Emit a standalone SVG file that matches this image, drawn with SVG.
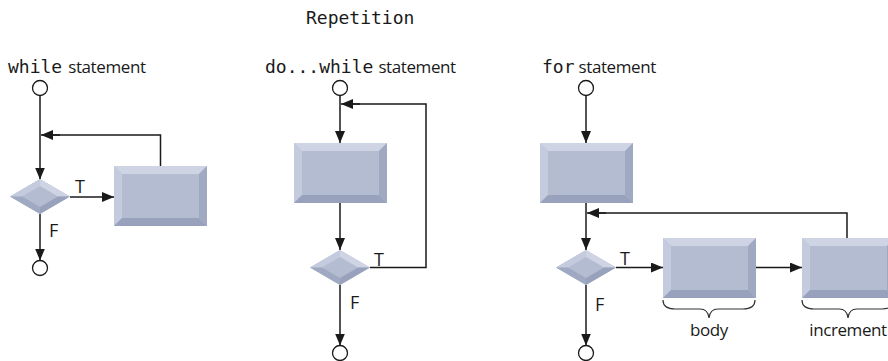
<svg xmlns="http://www.w3.org/2000/svg" width="888" height="361" viewBox="0 0 888 361">
<defs>
<style>
.mono{font-family:"DejaVu Sans Mono","Liberation Mono",monospace;font-size:18px;fill:#1a1a1a}
.sans{font-family:"Open Sans","Noto Sans",sans-serif;font-size:17px;letter-spacing:-0.4px;fill:#1a1a1a}
.lbl{font-family:"Open Sans","Noto Sans",sans-serif;font-size:18px;fill:#1a1a1a}
.ln{stroke:#1a1a1a;stroke-width:1.5;fill:none}
.arr{stroke:#1a1a1a;stroke-width:1.5;fill:none;marker-end:url(#ah)}
.brace{stroke:#333;stroke-width:1.2;fill:none}
.term{fill:#fff;stroke:#1a1a1a;stroke-width:1.3}
.c{fill:#b4bcd1}
.t{fill:#ced4e3}
.l{fill:#c5cbde}
.r{fill:#9fa9c2}
.b{fill:#98a2bc}
</style>
<marker id="ah" markerUnits="userSpaceOnUse" markerWidth="12" markerHeight="10" refX="12" refY="5" orient="auto">
<path d="M0,0 L12,5 L0,10 z" fill="#1a1a1a"/>
</marker>
<g id="rect">
<rect x="0" y="0" width="93" height="60" class="c"/>
<polygon points="0,0 93,0 85,8 8,8" class="t"/>
<polygon points="0,0 8,8 8,52 0,60" class="l"/>
<polygon points="93,0 93,60 85,52 85,8" class="r"/>
<polygon points="0,60 8,52 85,52 93,60" class="b"/>
</g>
<g id="dia">
<polygon points="-30,0 0,-17.5 30,0 0,17.5" class="c"/>
<polygon points="-30,0 0,-17.5 0,-10.5 -18,0" class="l"/>
<polygon points="0,-17.5 30,0 18,0 0,-10.5" class="t"/>
<polygon points="30,0 0,17.5 0,10.5 18,0" class="b"/>
<polygon points="-30,0 -18,0 0,10.5 0,17.5" class="r"/>
</g>
</defs>
<rect width="888" height="361" fill="#fff"/>
<text class="mono" x="306" y="24">Repetition</text>

<g id="connectors">
<!-- while -->
<line class="arr" x1="40" y1="95.5" x2="40" y2="179.5"/>
<polyline class="ln" points="160.5,166 160.5,135 52,135"/>
<line class="arr" x1="60" y1="135" x2="41" y2="135"/>
<line class="arr" x1="70" y1="197" x2="114" y2="197"/>
<line class="arr" x1="40" y1="214" x2="40" y2="260.5"/>
<!-- do...while -->
<line class="arr" x1="340" y1="95.5" x2="340" y2="143"/>
<polyline class="ln" points="370,267.5 426,267.5 426,104 352,104"/>
<line class="arr" x1="360" y1="104" x2="341" y2="104"/>
<line class="arr" x1="340" y1="203" x2="340" y2="250"/>
<line class="arr" x1="340" y1="285" x2="340" y2="345.5"/>
<!-- for -->
<line class="arr" x1="586" y1="95.5" x2="586" y2="143"/>
<line class="arr" x1="586" y1="203" x2="586" y2="250"/>
<polyline class="ln" points="847,238 847,213 598,213"/>
<line class="arr" x1="606" y1="213" x2="587" y2="213"/>
<line class="arr" x1="616" y1="267.5" x2="663" y2="267.5"/>
<line class="arr" x1="755" y1="267.5" x2="802" y2="267.5"/>
<line class="arr" x1="586" y1="285" x2="586" y2="345.5"/>
</g>

<g id="while">
<text x="8" y="73"><tspan class="mono">while</tspan><tspan class="sans" dx="6">statement</tspan></text>
<circle id="w-start" class="term" cx="40" cy="88" r="7.5"/>
<use id="w-cond" href="#dia" x="40" y="196.5"/>
<use id="w-body" href="#rect" x="114" y="166"/>
<circle id="w-end" class="term" cx="40" cy="268" r="7.5"/>
<text class="lbl" x="75" y="193">T</text>
<text class="lbl" x="49" y="237">F</text>
</g>

<g id="dowhile">
<text x="265" y="73"><tspan class="mono">do...while</tspan><tspan class="sans" dx="5">statement</tspan></text>
<circle id="d-start" class="term" cx="340" cy="88" r="7.5"/>
<use id="d-body" href="#rect" x="294" y="143"/>
<use id="d-cond" href="#dia" x="340" y="267.5"/>
<circle id="d-end" class="term" cx="340" cy="353" r="7.5"/>
<text class="lbl" x="374" y="266">T</text>
<text class="lbl" x="350" y="309">F</text>
</g>

<g id="for">
<text x="542" y="73"><tspan class="mono">for</tspan><tspan class="sans" dx="4">statement</tspan></text>
<circle id="f-start" class="term" cx="586" cy="88" r="7.5"/>
<use id="f-init" href="#rect" x="540" y="143"/>
<use id="f-cond" href="#dia" x="586" y="267.5"/>
<use id="f-body" href="#rect" x="663" y="238"/>
<use id="f-inc" href="#rect" x="802" y="238"/>
<circle id="f-end" class="term" cx="586" cy="353" r="7.5"/>
<text class="lbl" x="620" y="265">T</text>
<text class="lbl" x="595" y="311">F</text>
<path class="brace" d="M663,300 Q663,309 675,309 L700,309 Q708,309 709,318 Q710,309 718,309 L743,309 Q755,309 755,300"/>
<text class="sans" x="709" y="336" text-anchor="middle">body</text>
<path class="brace" d="M802,300 Q802,309 814,309 L839,309 Q847,309 848,318 Q849,309 857,309 L882,309 Q894,309 894,300"/>
<text class="sans" x="848" y="336" text-anchor="middle">increment</text>
</g>
</svg>
